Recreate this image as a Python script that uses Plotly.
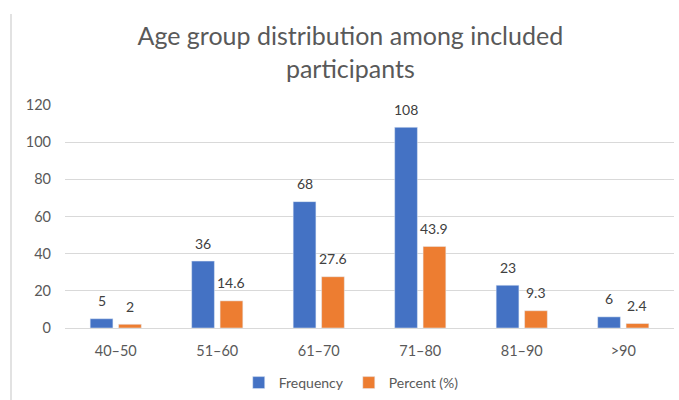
import plotly.graph_objects as go

categories = ["40–50", "51–60", "61–70", "71–80", "81–90", ">90"]
frequency = [5, 36, 68, 108, 23, 6]
percent = [2, 14.6, 27.6, 43.9, 9.3, 2.4]
y_ticks = [0, 20, 40, 60, 80, 100, 120]

BLUE = "#4472C4"
ORANGE = "#ED7D31"
FONT = "Lato"

fig = go.Figure()
fig.add_trace(go.Bar(x=categories, y=frequency, name="Frequency", marker_color=BLUE))
fig.add_trace(go.Bar(x=categories, y=percent, name="Percent (%)", marker_color=ORANGE))

annotations = []
for cat, v in zip(categories, frequency):
    annotations.append(dict(x=cat, y=v, text=str(v), xref="x", yref="y", showarrow=False,
                            xshift=-14, yshift=18, yanchor="middle",
                            font=dict(family=FONT, size=14, color="#404040")))
for cat, v in zip(categories, percent):
    annotations.append(dict(x=cat, y=v, text=f"{v:g}", xref="x", yref="y", showarrow=False,
                            xshift=14, yshift=18, yanchor="middle",
                            font=dict(family=FONT, size=14, color="#404040")))

fig.update_layout(
    width=679, height=400,
    margin=dict(l=65, r=5, t=105, b=72, autoexpand=False),
    paper_bgcolor="white", plot_bgcolor="white",
    font=dict(family=FONT, color="#595959", size=14),
    title=dict(text="Age group distribution among included<br>participants",
               x=0.516, xanchor="center", y=1 - 45 / 400, yanchor="middle",
               yref="container",
               font=dict(family=FONT, size=25, color="#595959")),
    barmode="group", bargap=0.44, bargroupgap=0.2,
    showlegend=True,
    legend=dict(orientation="h", x=0.47, xanchor="center", y=17 / 400, yanchor="middle",
                yref="container",
                font=dict(family=FONT, size=14, color="#595959"), itemwidth=30),
    annotations=annotations,
    shapes=[dict(type="line", xref="paper", yref="paper",
                 x0=-54 / 609, x1=-54 / 609, y0=(327.7 - 14) / 222.7, y1=-72 / 222.7,
                 line=dict(color="#d9d9d9", width=1.5))],
)
fig.update_yaxes(range=[0, 120], tickvals=y_ticks, showgrid=True, gridcolor="#d9d9d9",
                 gridwidth=1, zeroline=True, zerolinecolor="#d9d9d9", zerolinewidth=1,
                 showline=False, ticks="", ticklabelstandoff=13, automargin=False,
                 tickfont=dict(family=FONT, size=14.5, color="#595959"))
fig.update_xaxes(showgrid=False, showline=False, ticks="", ticklabelstandoff=12,
                 automargin=False,
                 tickfont=dict(family=FONT, size=14.5, color="#595959"))

fig.write_html("out.html")
